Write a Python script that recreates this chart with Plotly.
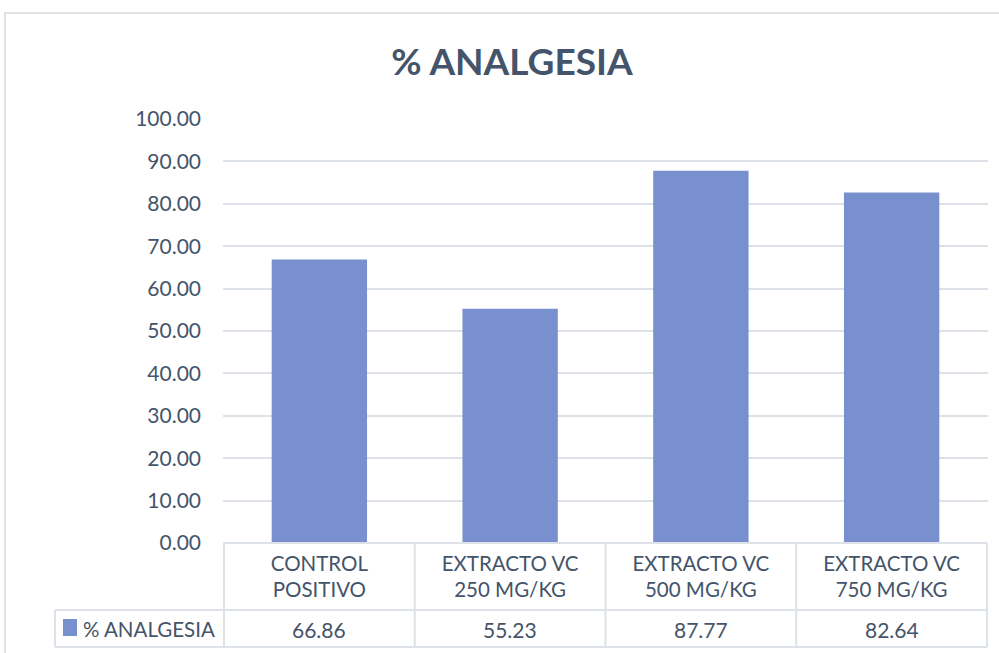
import plotly.graph_objects as go

categories = ["CONTROL<br>POSITIVO", "EXTRACTO VC<br>250 MG/KG", "EXTRACTO VC<br>500 MG/KG", "EXTRACTO VC<br>750 MG/KG"]
values = [66.86, 55.23, 87.77, 82.64]
series_name = "% ANALGESIA"
y_ticks = [0, 10, 20, 30, 40, 50, 60, 70, 80, 90, 100]

TEXT = "#44546A"
GRID = "#DDE2E8"
FONT = "Lato"
W, H = 999, 653
L, R, T, B = 223, 11, 119, 110
PW = W - L - R
PH = H - T - B

def px_x(px):
    return (px - L) / PW

def px_y(py):
    return (H - B - py) / PH

fig = go.Figure()
fig.add_trace(go.Bar(
    x=categories, y=values, name=series_name,
    marker=dict(color="#7891CE", line=dict(width=0)),
    width=0.5, showlegend=False,
))

shapes = []
# chart border
shapes.append(dict(type="rect", xref="paper", yref="paper",
                   x0=px_x(5), x1=px_x(1010), y0=px_y(665), y1=px_y(13),
                   line=dict(color="#D9D9D9", width=1.5), fillcolor="rgba(0,0,0,0)", layer="below"))
line_style = dict(color=GRID, width=2)
# table horizontal lines
shapes.append(dict(type="line", xref="paper", yref="paper", x0=0, x1=1 - 1 / PW, y0=0, y1=0, line=line_style))
for py in (610, 647):
    shapes.append(dict(type="line", xref="paper", yref="paper", x0=px_x(55), x1=1 - 1 / PW,
                       y0=px_y(py), y1=px_y(py), line=line_style))
# table vertical lines
for i in range(len(categories) + 1):
    shapes.append(dict(type="line", xref="x", yref="paper", x0=i - 0.5, x1=i - 0.5,
                       y0=0, y1=px_y(647), line=line_style))
shapes.append(dict(type="line", xref="paper", yref="paper", x0=px_x(55), x1=px_x(55),
                   y0=px_y(610), y1=px_y(647), line=line_style))
# legend key square
shapes.append(dict(type="rect", xref="paper", yref="paper", x0=px_x(63), x1=px_x(77),
                   y0=px_y(636), y1=px_y(619), line=dict(width=0), fillcolor="#7891CE"))

annotations = []
for c, v in zip(categories, values):
    annotations.append(dict(x=c, xref="x", y=px_y(629), yref="paper", text=f"{v:.2f}",
                            showarrow=False, font=dict(family=FONT, size=21, color=TEXT),
                            xanchor="center", yanchor="middle"))
annotations.append(dict(x=px_x(81), xref="paper", y=px_y(629), yref="paper", text=series_name,
                        showarrow=False, font=dict(family=FONT, size=20.5, color=TEXT),
                        xanchor="left", yanchor="middle"))

fig.update_layout(
    width=W, height=H,
    margin=dict(l=L, r=R, t=T, b=B),
    paper_bgcolor="white", plot_bgcolor="white",
    title=dict(text="<b>% ANALGESIA</b>", x=px_x(512), xref="paper", xanchor="center",
               y=1 - 62 / H, yanchor="middle",
               font=dict(family=FONT, size=37, color=TEXT)),
    bargap=0.5,
    shapes=shapes, annotations=annotations,
    font=dict(family=FONT, color=TEXT),
)
fig.update_yaxes(range=[0, 100], tickvals=y_ticks, ticktext=[f"{t:.2f}" for t in y_ticks],
                 showgrid=True, gridcolor=GRID, gridwidth=2, zeroline=False, showline=False,
                 tickfont=dict(family=FONT, size=21, color=TEXT), ticklabelstandoff=21)
fig.update_xaxes(showgrid=False, showline=False, zeroline=False,
                 tickfont=dict(family=FONT, size=20.5, color=TEXT), ticklabelstandoff=6)

fig.write_html("out.html")
